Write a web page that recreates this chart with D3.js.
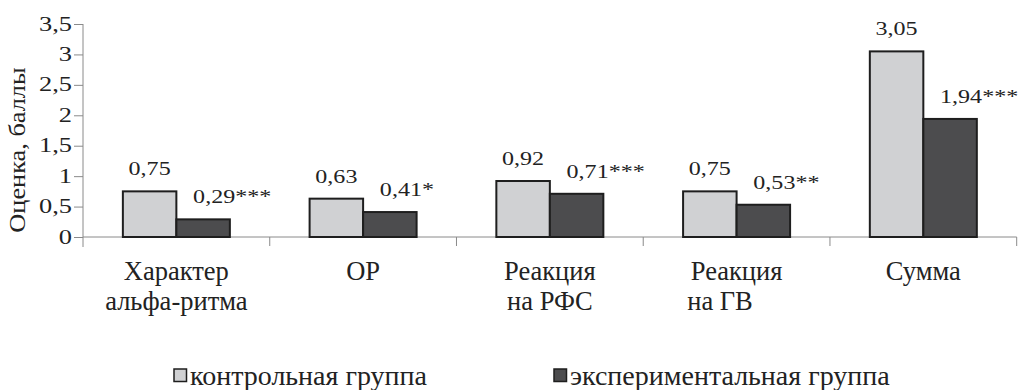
<!DOCTYPE html>
<html>
<head>
<meta charset="utf-8">
<script src="https://cdn.jsdelivr.net/npm/d3@7"></script>
<style>
  html, body { margin: 0; padding: 0; background: #fff; }
  svg { display: block; }
</style>
</head>
<body>
<svg id="chart" width="1020" height="390"></svg>
<script>
// ---- data ----
const categories = [["Характер", "альфа-ритма"], ["ОР"], ["Реакция", "на РФС"], ["Реакция", "на ГВ\u00a0\u00a0\u00a0\u00a0\u00a0"], ["Сумма"]];
const seriesNames = ["контрольная группа", "экспериментальная группа"];
const controlValues = [0.75, 0.63, 0.92, 0.75, 3.05];
const experimentValues = [0.29, 0.41, 0.71, 0.53, 1.94];
const experimentMarks = ["***", "*", "***", "**", "***"];
const yTicks = [0, 0.5, 1, 1.5, 2, 2.5, 3, 3.5];
const yTitle = "Оценка, баллы";

const FONT = "'Liberation Serif', Tinos, 'Times New Roman', 'DejaVu Serif', serif";
const colors = ["#d0d1d3", "#4c4c4e"];
const stroke = "#1e1e1e";
const axisColor = "#8a8a8a";
const textColor = "#222";

const svg = d3.select("#chart");
const plotL = 83, plotR = 1016.7, plotT = 24, plotB = 237;

const catIdx = categories.map((c, i) => i);
const x0 = d3.scaleBand().domain(catIdx).range([plotL, plotR]).paddingInner(0.427).paddingOuter(0.2135);
const x1 = d3.scaleBand().domain([0, 1]).range([0, x0.bandwidth()]);
const y = d3.scaleLinear().domain([0, 3.5]).range([plotB, plotT]);
const comma = v => String(v).replace(".", ",");
const fmt2 = v => d3.format(".2f")(v).replace(".", ",");
const styleText = sel => sel.style("font-family", FONT).style("fill", textColor);

// Y axis
const yAxis = d3.axisLeft(y).tickValues(yTicks).tickSize(9).tickPadding(0).tickFormat(comma);
const gy = svg.append("g").attr("transform", `translate(${plotL},0)`).call(yAxis);
gy.attr("font-family", null);
gy.select(".domain").attr("stroke", axisColor).attr("d", `M0,${y(3.5)}V${plotB + 10}`);
gy.selectAll(".tick line").attr("stroke", axisColor).attr("x2", -9).attr("x1", 0);
gy.selectAll(".tick text")
  .attr("x", 0).attr("dy", null).attr("y", 0)
  .attr("font-size", 22).attr("text-anchor", "end")
  .attr("transform", "translate(-11,6) scale(1.2,1)")
  .call(styleText);

// X axis line + ticks at band boundaries
const xa = svg.append("g");
xa.append("line").attr("x1", plotL).attr("x2", plotR).attr("y1", plotB).attr("y2", plotB).attr("stroke", axisColor);
const bounds = d3.range(1, categories.length + 1).map(i => x0.range()[0] + i * x0.step());
xa.selectAll("line.tk").data(bounds).join("line").attr("class", "tk")
  .attr("x1", d => d).attr("x2", d => d).attr("y1", plotB).attr("y2", plotB + 9).attr("stroke", axisColor);

// category labels
const catG = svg.append("g");
categories.forEach((lines, i) => {
  const cx = x0(i) + x0.bandwidth() / 2;
  lines.forEach((ln, j) => {
    catG.append("text").attr("x", cx).attr("y", 280 + j * 30)
      .attr("text-anchor", "middle").attr("font-size", 26.5).style("white-space", "pre")
      .call(styleText).text(ln);
  });
});

// bars
const series = [controlValues, experimentValues];
series.forEach((vals, s) => {
  svg.append("g").selectAll("rect").data(vals).join("rect")
    .attr("x", (d, i) => x0(i) + x1(s))
    .attr("y", d => y(d))
    .attr("width", x1.bandwidth())
    .attr("height", d => y(0) - y(d))
    .attr("fill", colors[s])
    .attr("stroke", stroke).attr("stroke-width", 2);
});

// value labels (horizontally stretched to match the reference face)
const lab = svg.append("g");
controlValues.forEach((v, i) => {
  const cx = x0(i) + x1(0) + x1.bandwidth() / 2;
  lab.append("g").attr("transform", `translate(${cx},${y(v) - 16}) scale(1.3,1)`)
    .append("text").attr("text-anchor", "middle").attr("font-size", 18.5).call(styleText).text(fmt2(v));
});
experimentValues.forEach((v, i) => {
  const cx = x0(i) + x1(1) + x1.bandwidth() / 2;
  lab.append("g").attr("transform", `translate(${cx - 10},${y(v) - 16}) scale(1.3,1)`)
    .append("text").attr("text-anchor", "start").attr("font-size", 18.5).call(styleText)
    .text(fmt2(v) + experimentMarks[i]);
});

// y title
svg.append("g").attr("transform", `translate(25,150) rotate(-90) scale(1.17,1)`)
  .append("text").attr("text-anchor", "middle").attr("font-size", 22.5).call(styleText).text(yTitle);

// legend
const legendX = [174, 554];
const leg = svg.append("g");
seriesNames.forEach((name, s) => {
  leg.append("rect").attr("x", legendX[s]).attr("y", 369).attr("width", 12.5).attr("height", 12.5)
    .attr("fill", colors[s]).attr("stroke", stroke).attr("stroke-width", 1.5);
  leg.append("text").attr("x", legendX[s] + 16).attr("y", 385)
    .attr("font-size", 28).call(styleText).text(name);
});
</script>
</body>
</html>
